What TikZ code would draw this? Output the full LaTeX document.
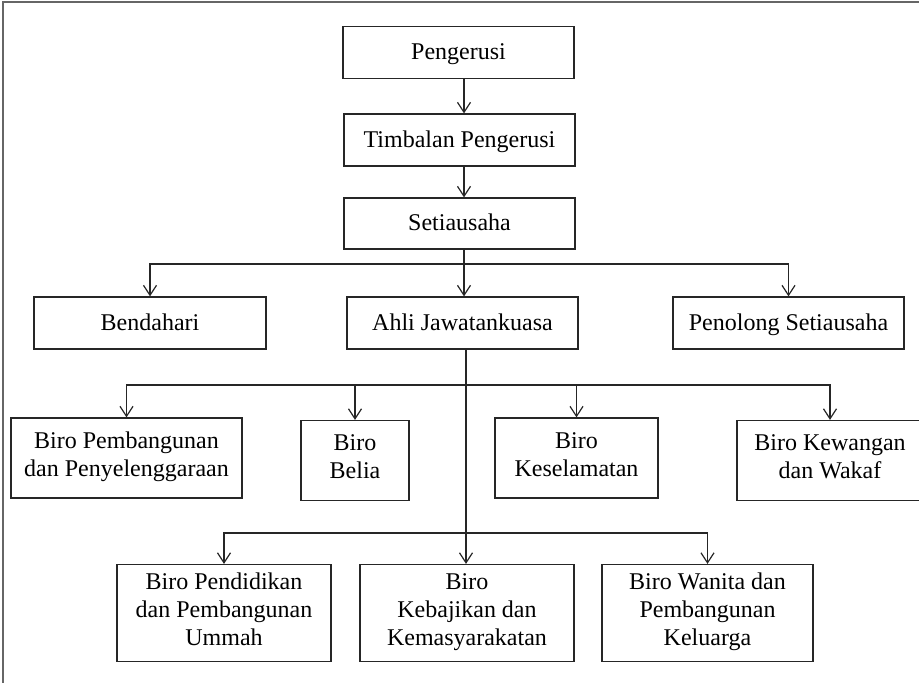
\documentclass[tikz,border=0pt]{standalone}
\usepackage{fontspec}
\setmainfont{Liberation Serif}
\usetikzlibrary{arrows.meta, positioning}
\definecolor{framegrey}{rgb}{0.4,0.4,0.4}
\definecolor{boxline}{rgb}{0.15,0.15,0.15}
\newcommand\boxstrut{\vrule height 21pt depth 7pt width 0pt}

\begin{document}
\begin{tikzpicture}[x=1pt, y=-1pt, >={Straight Barb[length=10pt,width=13pt]},
                line width=1.2pt, draw=boxline,
                every node/.style={
                        rectangle,
                        draw=boxline,
                        line width=1.2pt,
                        align=center,
                        inner sep=0pt,
                        execute at begin node=\boxstrut,
                        execute at end node=\boxstrut,
                        font=\fontsize{24}{28}\selectfont}]

                \clip (0,0) rectangle (919,683);

                % frame
                \draw[framegrey, line width=1.6pt] (3,683) -- (3,2) -- (919,2);

                \coordinate (spine) at (464,0);
                \coordinate (trunk) at (466,0);
                \coordinate (bus1) at (0,264);
                \coordinate (bus2) at (0,385);
                \coordinate (bus3) at (0,533);

                \node[minimum width=231pt, minimum height=52pt] (A) at (458.5, 52.5) {Pengerusi};

                \node[minimum width=231pt, minimum height=52pt] (B) at (459.5, 140) {Timbalan Pengerusi};

                \node[minimum width=231pt, minimum height=51pt] (C) at (459.5, 223.5) {Setiausaha};

                \node[minimum width=232pt, minimum height=52pt] (D) at (150, 323) {Bendahari};

                \node[minimum width=231pt, minimum height=52pt] (E) at (462.5, 323) {Ahli Jawatankuasa};

                \node[minimum width=231pt, minimum height=52pt] (F) at (788.5, 323) {Penolong Setiausaha};

                \node[minimum width=231pt, minimum height=80pt] (G) at (126.5, 458) {Biro Pembangunan\\dan Penyelenggaraan};

                \node[minimum width=108pt, minimum height=80pt] (H) at (355, 460.5) {Biro\\Belia};

                \node[minimum width=163pt, minimum height=80pt] (I) at (576.5, 458) {Biro\\Keselamatan};

                \node[minimum width=186pt, minimum height=80pt] (J) at (830, 460.5) {Biro Kewangan\\dan Wakaf};

                \node[minimum width=214pt, minimum height=97pt] (K) at (224, 613) {Biro Pendidikan\\dan Pembangunan\\Ummah};

                \node[minimum width=214pt, minimum height=97pt] (L) at (467, 613) {Biro\\Kebajikan dan\\Kemasyarakatan};

                \node[minimum width=211pt, minimum height=97pt] (M) at (707.5, 613) {Biro Wanita dan\\Pembangunan\\Keluarga};

                \draw[->] (A.south -| spine) -- (B.north -| spine);
                \draw[->] (B.south -| spine) -- (C.north -| spine);
                \draw[->] (C.south -| spine) -- (E.north -| spine);
                \draw[->] (bus1 -| spine) -| (D.north);
                \draw[->] (bus1 -| spine) -| (F.north);

                \draw[->] (E.south -| trunk) -- (L.north -| trunk);
                \draw[->] (bus2 -| trunk) -| (G.north);
                \draw[->] (bus2 -| trunk) -| (H.north);
                \draw[->] (bus2 -| trunk) -| (I.north);
                \draw[->] (bus2 -| trunk) -| (J.north);
                \draw[->] (bus3 -| trunk) -| (K.north);
                \draw[->] (bus3 -| trunk) -| (M.north);
            \end{tikzpicture}
\end{document}
